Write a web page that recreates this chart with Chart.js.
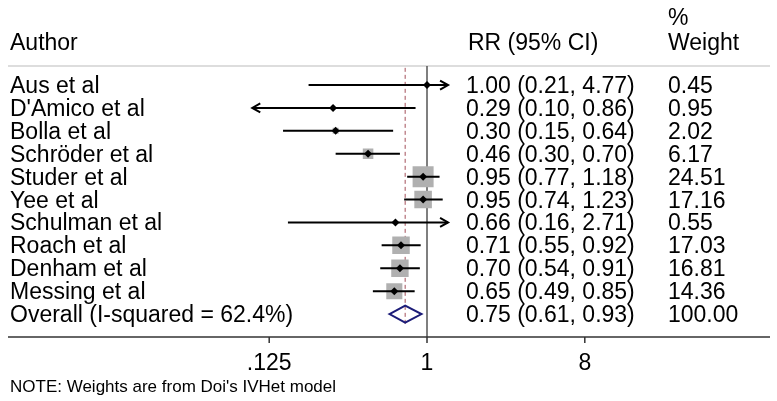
<!DOCTYPE html>
<html>
<head>
<meta charset="utf-8">
<script src="https://cdn.jsdelivr.net/npm/chart.js@4.4.0/dist/chart.umd.min.js"></script>
<style>
  html, body { margin: 0; padding: 0; background: #fff; }
  #wrap { width: 777px; height: 401px; }
</style>
</head>
<body>
<div id="wrap"><canvas id="forest" width="777" height="401"></canvas></div>
<script>
// study rows, top to bottom
const authors = ["Aus et al", "D'Amico et al", "Bolla et al", "Schröder et al", "Studer et al",
  "Yee et al", "Schulman et al", "Roach et al", "Denham et al", "Messing et al"];
const rr = [1.00, 0.29, 0.30, 0.46, 0.95, 0.95, 0.66, 0.71, 0.70, 0.65];
const lower = [0.21, 0.10, 0.15, 0.30, 0.77, 0.74, 0.16, 0.55, 0.54, 0.49];
const upper = [4.77, 0.86, 0.64, 0.70, 1.18, 1.23, 2.71, 0.92, 0.91, 0.85];
const weights = [0.45, 0.95, 2.02, 6.17, 24.51, 17.16, 0.55, 17.03, 16.81, 14.36];

// pooled estimate
const overallLabel = "Overall (I-squared = 62.4%)";
const overallRR = 0.75;
const overallLower = 0.61;
const overallUpper = 0.93;
const overallWeight = 100.00;

// x axis
const tickValues = [0.125, 1, 8];
const tickLabels = [".125", "1", "8"];
// CIs past these values are cut and drawn with an arrow
const clipLow = 0.1;
const clipHigh = 1.32;

const noteText = "NOTE: Weights are from Doi's IVHet model";

const FONT = '"Liberation Sans", Arial, Helvetica, sans-serif';
const rows = authors.map((a, i) => i);
const overallRow = authors.length;

// CI segments, broken by NaN gaps
const ciPoints = [];
rows.forEach(i => {
  ciPoints.push({ x: Math.max(lower[i], clipLow), y: i });
  ciPoints.push({ x: Math.min(upper[i], clipHigh), y: i });
  ciPoints.push({ x: NaN, y: NaN });
});

function seg(ctx, x1, y1, x2, y2) {
  ctx.beginPath();
  ctx.moveTo(x1, y1);
  ctx.lineTo(x2, y2);
  ctx.stroke();
}

const forestPlugin = {
  id: "forest",
  beforeDatasetsDraw(chart) {
    const { ctx, chartArea, scales: { x, y } } = chart;
    ctx.save();
    // rule under the header
    ctx.strokeStyle = "#d2d2d2";
    ctx.lineWidth = 1.5;
    seg(ctx, 8, chartArea.top, 770, chartArea.top);
    // line of no effect
    const x1 = x.getPixelForValue(1);
    ctx.strokeStyle = "#555";
    ctx.lineWidth = 1.5;
    seg(ctx, x1, chartArea.top, x1, chartArea.bottom);
    // pooled estimate, dashed
    const xo = x.getPixelForValue(overallRR);
    ctx.strokeStyle = "#a3505a";
    ctx.lineWidth = 1;
    ctx.setLineDash([4, 3]);
    seg(ctx, xo, y.getPixelForValue(-0.75), xo, y.getPixelForValue(overallRow + 0.5));
    ctx.setLineDash([]);
    // diamond
    const yc = y.getPixelForValue(overallRow);
    const h = 8.5;
    ctx.strokeStyle = "#1c1c78";
    ctx.lineWidth = 2;
    ctx.beginPath();
    ctx.moveTo(x.getPixelForValue(overallLower), yc);
    ctx.lineTo(xo, yc - h);
    ctx.lineTo(x.getPixelForValue(overallUpper), yc);
    ctx.lineTo(xo, yc + h);
    ctx.closePath();
    ctx.stroke();
    ctx.restore();
  },
  afterDatasetsDraw(chart) {
    const { ctx, scales: { x, y } } = chart;
    ctx.save();
    ctx.strokeStyle = "#000";
    ctx.lineWidth = 2;
    rows.forEach(i => {
      const yp = y.getPixelForValue(i);
      if (upper[i] > clipHigh) {
        const xp = x.getPixelForValue(clipHigh);
        ctx.beginPath();
        ctx.moveTo(xp - 8, yp - 4.5);
        ctx.lineTo(xp, yp);
        ctx.lineTo(xp - 8, yp + 4.5);
        ctx.stroke();
      }
      if (lower[i] <= clipLow) {
        const xp = x.getPixelForValue(clipLow);
        ctx.beginPath();
        ctx.moveTo(xp + 8, yp - 4.5);
        ctx.lineTo(xp, yp);
        ctx.lineTo(xp + 8, yp + 4.5);
        ctx.stroke();
      }
    });
    ctx.restore();
  },
  afterDraw(chart) {
    const { ctx, chartArea, scales: { x, y } } = chart;
    ctx.save();
    // x axis line across the full width
    ctx.strokeStyle = "#333";
    ctx.lineWidth = 1.5;
    seg(ctx, 8, chartArea.bottom, 770, chartArea.bottom);
    ctx.fillStyle = "#000";
    ctx.font = "23px " + FONT;
    ctx.textAlign = "center";
    tickValues.forEach((v, k) => {
      const xp = x.getPixelForValue(v);
      seg(ctx, xp, chartArea.bottom, xp, chartArea.bottom + 6);
      ctx.fillText(tickLabels[k], xp, chartArea.bottom + 33);
    });

    // columns
    const colAuthor = 10, colCI = 466, colW = 668;
    ctx.textAlign = "left";
    ctx.fillText("Author", colAuthor, 50);
    ctx.fillText("RR (95% CI)", colCI + 2, 50);
    ctx.fillText("%", colW, 25);
    ctx.fillText("Weight", colW, 50);
    rows.forEach(i => {
      const yp = y.getPixelForValue(i) + 8;
      ctx.fillText(authors[i], colAuthor, yp);
      ctx.fillText(rr[i].toFixed(2) + " (" + lower[i].toFixed(2) + ", " + upper[i].toFixed(2) + ")", colCI, yp);
      ctx.fillText(weights[i].toFixed(2), colW, yp);
    });
    const yo = y.getPixelForValue(overallRow) + 8;
    ctx.fillText(overallLabel, colAuthor, yo);
    ctx.fillText(overallRR.toFixed(2) + " (" + overallLower.toFixed(2) + ", " + overallUpper.toFixed(2) + ")", colCI, yo);
    ctx.fillText(overallWeight.toFixed(2), colW, yo);

    ctx.font = "17px " + FONT;
    ctx.fillText(noteText, colAuthor, 392);
    ctx.restore();
  }
};

new Chart(document.getElementById("forest"), {
  type: "scatter",
  data: {
    datasets: [
      {
        // weight boxes
        data: rows.map(i => ({ x: rr[i], y: i })),
        pointStyle: "rect",
        pointRadius: weights.map(w => 3.0 * Math.sqrt(w)),
        backgroundColor: "#b0b0b0",
        borderWidth: 0,
        order: 3
      },
      {
        // confidence intervals
        type: "line",
        data: ciPoints,
        showLine: true,
        spanGaps: false,
        borderColor: "#000",
        borderWidth: 2,
        pointRadius: 0,
        order: 2
      },
      {
        // point estimates
        data: rows.map(i => ({ x: rr[i], y: i })),
        pointStyle: "rectRot",
        pointRadius: 4,
        backgroundColor: "#000",
        borderWidth: 0,
        order: 1
      }
    ]
  },
  options: {
    responsive: false,
    animation: false,
    events: [],
    layout: { padding: { left: 216.6, right: 139.6, top: 66, bottom: 64 } },
    plugins: { legend: { display: false }, tooltip: { enabled: false } },
    scales: {
      x: { type: "logarithmic", min: 0.0625, max: 16, display: false },
      y: { type: "linear", min: -0.83, max: 11, reverse: true, display: false }
    }
  },
  plugins: [forestPlugin]
});
</script>
</body>
</html>
